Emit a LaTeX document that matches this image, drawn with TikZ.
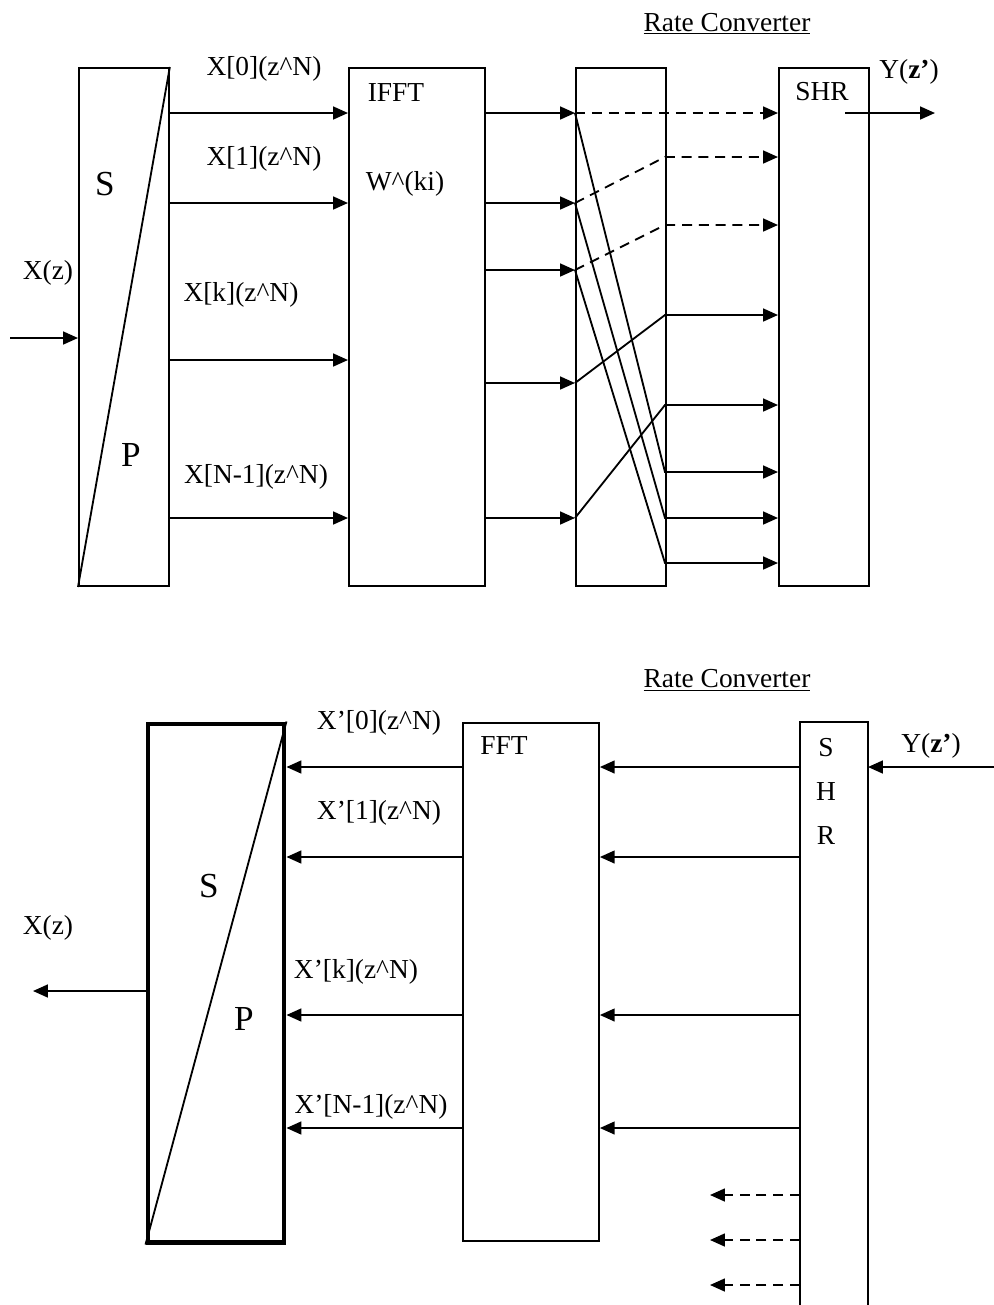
\documentclass[tikz,border=0pt]{standalone}
\usepackage{fontspec}
\setmainfont{Liberation Serif}
\usetikzlibrary{positioning,arrows.meta}

\begin{document}
\begin{tikzpicture}[x=0.025cm, y=-0.025cm, line width=1.3pt,
  blk/.style={draw, line width=1.3pt, inner sep=0pt, anchor=north west, minimum height=12.95cm},
  lbl/.style={inner sep=0pt, font=\fontsize{19.5}{23}\selectfont},
  big/.style={inner sep=0pt, font=\fontsize{25}{30}\selectfont},
  sig/.style={-{Triangle[length=0.37cm, width=0.32cm]}},
  dsig/.style={sig, dash pattern=on 0.25cm off 0.17cm}]
\useasboundingbox (0,0) rectangle (994,1305);

% Upper chain
\node[blk, minimum width=2.25cm] (sp1) at (78,67) {};
\node[blk, minimum width=3.4cm] (ifft) at (348,67) {};
\node[blk, minimum width=2.25cm] (rc1) at (575,67) {};
\node[blk, minimum width=2.25cm] (shr1) at (778,67) {};
\draw (sp1.south west) -- (sp1.north east);

% Upper labels
\node[lbl] (rctxt1) at (727,24) {\underline{Rate Converter}};
\node[lbl] (xin) at (48,273) {X(z)};
\node[big] (s1) at (105,184) {S};
\node[big] (p1) at (131,455) {P};
\node[lbl] (l0) at (264,69) {X[0](z\textasciicircum N)};
\node[lbl] (l1) at (264,159) {X[1](z\textasciicircum N)};
\node[lbl] (lk) at (241,295) {X[k](z\textasciicircum N)};
\node[lbl] (ln) at (256,477) {X[N-1](z\textasciicircum N)};
\node[lbl] (tifft) at (396,93) {IFFT};
\node[lbl] (tw) at (405,184) {W\textasciicircum(ki)};
\node[lbl] (tshr1) at (822,92) {SHR};
\node[lbl] (yout) at (909,72) {Y(\textbf{z'})};

% Input
\coordinate (xs) at (10,338);
\draw[sig] (xs) -- (sp1.west |- xs);

% S/P -> IFFT
\coordinate (a0) at (168,113);
\coordinate (a1) at (168,203);
\coordinate (ak) at (168,360);
\coordinate (an) at (168,518);
\draw[sig] (a0) -- (ifft.west |- a0);
\draw[sig] (a1) -- (ifft.west |- a1);
\draw[sig] (ak) -- (ifft.west |- ak);
\draw[sig] (an) -- (ifft.west |- an);

% IFFT -> rate converter
\coordinate (b0) at (484,113);
\coordinate (b1) at (484,203);
\coordinate (b2) at (484,270);
\coordinate (b3) at (484,383);
\coordinate (b4) at (484,518);
\draw[sig] (b0) -- (rc1.west |- b0);
\draw[sig] (b1) -- (rc1.west |- b1);
\draw[sig] (b2) -- (rc1.west |- b2);
\draw[sig] (b3) -- (rc1.west |- b3);
\draw[sig] (b4) -- (rc1.west |- b4);

% Rate converter -> SHR
\coordinate (c0) at (665,113);
\coordinate (c1) at (665,157);
\coordinate (c2) at (665,225);
\coordinate (c3) at (665,315);
\coordinate (c4) at (665,405);
\coordinate (c5) at (665,472);
\coordinate (c6) at (665,518);
\coordinate (c7) at (665,563);
\draw[dsig] (rc1.west |- b0) -- (c0) -- (shr1.west |- c0);
\draw[dsig] (rc1.west |- b1) -- (c1) -- (shr1.west |- c1);
\draw[dsig] (rc1.west |- b2) -- (c2) -- (shr1.west |- c2);
\draw[sig] (rc1.west |- b3) -- (c3) -- (shr1.west |- c3);
\draw[sig] (rc1.west |- b4) -- (c4) -- (shr1.west |- c4);
\draw[sig] (rc1.west |- b0) -- (c5) -- (shr1.west |- c5);
\draw[sig] (rc1.west |- b1) -- (c6) -- (shr1.west |- c6);
\draw[sig] (rc1.west |- b2) -- (c7) -- (shr1.west |- c7);

% Output
\coordinate (yo) at (845,113);
\coordinate (ye) at (935,113);
\draw[sig] (yo) -- (ye);

% Lower chain
\node[blk, line width=3.5pt, minimum width=3.4cm] (sp2) at (145.5,721.5) {};
\node[blk, minimum width=3.4cm] (fft) at (462,722) {};
\coordinate (shr2nw) at (800,722);
\coordinate (shr2ne) at (868,722);
\draw (800,1305) -- (shr2nw) -- (shr2ne) -- (868,1305);
\draw (sp2.south west) -- (sp2.north east);

% Lower labels
\node[lbl] (rctxt2) at (727,680) {\underline{Rate Converter}};
\node[lbl] (xout) at (48,928) {X(z)};
\node[big] (s2) at (209,886) {S};
\node[big] (p2) at (244,1019) {P};
\node[lbl] (m0) at (379,723) {X'[0](z\textasciicircum N)};
\node[lbl] (m1) at (379,813) {X'[1](z\textasciicircum N)};
\node[lbl] (mk) at (356,972) {X'[k](z\textasciicircum N)};
\node[lbl] (mn) at (371,1107) {X'[N-1](z\textasciicircum N)};
\node[lbl] (tfft) at (504,746) {FFT};
\node[lbl] (ts) at (826,748) {S};
\node[lbl] (th) at (826,792) {H};
\node[lbl] (tr) at (826,836) {R};
\node[lbl] (yin) at (931,746) {Y(\textbf{z'})};

% SHR -> FFT
\coordinate (f0) at (800,767);
\coordinate (f1) at (800,857);
\coordinate (fk) at (800,1015);
\coordinate (fn) at (800,1128);
\draw[sig] (f0) -- (fft.east |- f0);
\draw[sig] (f1) -- (fft.east |- f1);
\draw[sig] (fk) -- (fft.east |- fk);
\draw[sig] (fn) -- (fft.east |- fn);

% FFT -> S/P
\coordinate (g0) at (462,767);
\coordinate (g1) at (462,857);
\coordinate (gk) at (462,1015);
\coordinate (gn) at (462,1128);
\draw[sig] (g0) -- (sp2.east |- g0);
\draw[sig] (g1) -- (sp2.east |- g1);
\draw[sig] (gk) -- (sp2.east |- gk);
\draw[sig] (gn) -- (sp2.east |- gn);

% Input and output
\coordinate (yi) at (994,767);
\draw[sig] (yi) -- (shr2ne |- yi);
\coordinate (xo) at (33,991);
\draw[sig] (sp2.west |- xo) -- (xo);

% Unused SHR outputs
\coordinate (e1) at (710,1195);
\coordinate (e2) at (710,1240);
\coordinate (e3) at (710,1285);
\draw[dsig] (shr2nw |- e1) -- (e1);
\draw[dsig] (shr2nw |- e2) -- (e2);
\draw[dsig] (shr2nw |- e3) -- (e3);
\end{tikzpicture}
\end{document}
